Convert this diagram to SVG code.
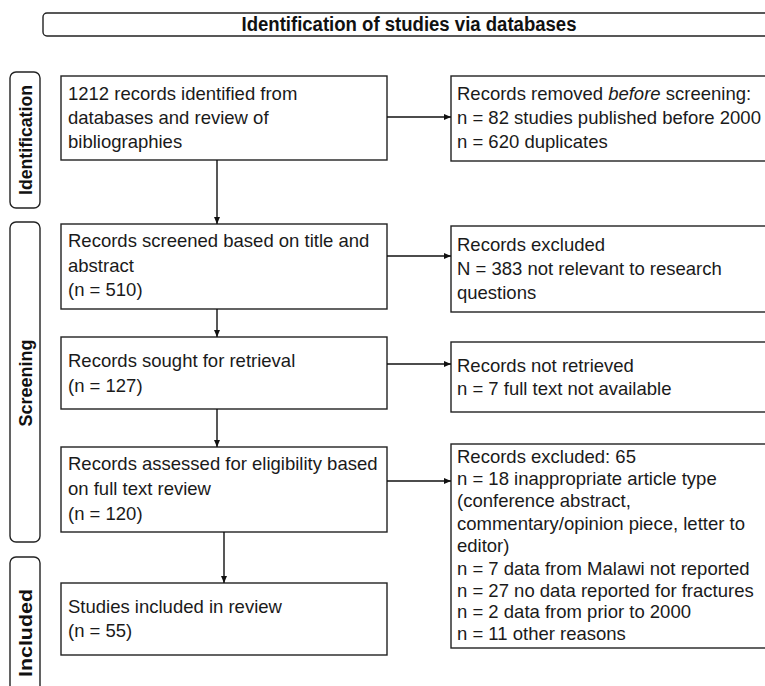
<svg xmlns="http://www.w3.org/2000/svg" width="765" height="686" viewBox="0 0 765 686">
<defs>
<style>
.box{fill:#fff;stroke:#222;stroke-width:1.4}
.lbl{fill:#fff;stroke:#222;stroke-width:1.4}
.t{font-family:"Liberation Sans",Arial,sans-serif;font-size:18.5px;fill:#1a1a1a}
.b{font-family:"Liberation Sans",Arial,sans-serif;font-weight:bold;fill:#111}
.c{stroke:#111;stroke-width:1.4;fill:none}
</style>
<marker id="ah" markerWidth="8" markerHeight="8" refX="7" refY="4" orient="auto" markerUnits="userSpaceOnUse">
<path d="M0,1 L7,4 L0,7 Z" fill="#111"/>
</marker>
</defs>
<rect width="765" height="686" fill="#fff"/>

<g id="banner">
<rect class="lbl" x="43" y="13" width="730" height="23" rx="4"/>
<text class="b" x="409" y="31" font-size="20" text-anchor="middle" textLength="335" lengthAdjust="spacingAndGlyphs">Identification of studies via databases</text>
</g>

<g id="label-identification">
<rect class="lbl" x="10" y="72" width="30" height="136" rx="6"/>
<text class="b" font-size="18" transform="translate(25.5,140) rotate(-90)" text-anchor="middle" dominant-baseline="central" textLength="110" lengthAdjust="spacingAndGlyphs">Identification</text>
</g>
<g id="label-screening">
<rect class="lbl" x="10" y="222" width="30" height="320" rx="6"/>
<text class="b" font-size="18" transform="translate(25.5,383) rotate(-90)" text-anchor="middle" dominant-baseline="central" textLength="87" lengthAdjust="spacingAndGlyphs">Screening</text>
</g>
<g id="label-included">
<rect class="lbl" x="10" y="557" width="30" height="152" rx="6"/>
<text class="b" font-size="18" transform="translate(25.5,633) rotate(-90)" text-anchor="middle" dominant-baseline="central" textLength="88" lengthAdjust="spacingAndGlyphs">Included</text>
</g>

<g id="n1">
<rect class="box" x="61" y="76" width="326" height="84"/>
<text class="t" x="68" y="100">1212 records identified from</text>
<text class="t" x="68" y="124">databases and review of</text>
<text class="t" x="68" y="148">bibliographies</text>
</g>
<g id="n2">
<rect class="box" x="61" y="224" width="326" height="85"/>
<text class="t" x="68" y="247">Records screened based on title and</text>
<text class="t" x="68" y="272">abstract</text>
<text class="t" x="68" y="296">(n = 510)</text>
</g>
<g id="n3">
<rect class="box" x="61" y="337" width="326" height="72"/>
<text class="t" x="68" y="367">Records sought for retrieval</text>
<text class="t" x="68" y="392">(n = 127)</text>
</g>
<g id="n4">
<rect class="box" x="61" y="447" width="326" height="85"/>
<text class="t" x="68" y="470">Records assessed for eligibility based</text>
<text class="t" x="68" y="495">on full text review</text>
<text class="t" x="68" y="520">(n = 120)</text>
</g>
<g id="n5">
<rect class="box" x="61" y="583" width="326" height="72"/>
<text class="t" x="68" y="613">Studies included in review</text>
<text class="t" x="68" y="637">(n = 55)</text>
</g>

<g id="r1">
<rect class="box" x="451" y="76" width="320" height="85"/>
<text class="t" x="457" y="100">Records removed <tspan font-style="italic">before</tspan> screening:</text>
<text class="t" x="457" y="124">n = 82 studies published before 2000</text>
<text class="t" x="457" y="148">n = 620 duplicates</text>
</g>
<g id="r2">
<rect class="box" x="451" y="226" width="320" height="86"/>
<text class="t" x="457" y="251">Records excluded</text>
<text class="t" x="457" y="275">N = 383 not relevant to research</text>
<text class="t" x="457" y="299">questions</text>
</g>
<g id="r3">
<rect class="box" x="451" y="342" width="320" height="70"/>
<text class="t" x="457" y="372">Records not retrieved</text>
<text class="t" x="457" y="395">n = 7 full text not available</text>
</g>
<g id="r4">
<rect class="box" x="451" y="444" width="320" height="204"/>
<text class="t" x="457" y="463">Records excluded: 65</text>
<text class="t" x="457" y="485">n = 18 inappropriate article type</text>
<text class="t" x="457" y="507">(conference abstract,</text>
<text class="t" x="457" y="530">commentary/opinion piece, letter to</text>
<text class="t" x="457" y="552">editor)</text>
<text class="t" x="457" y="575">n = 7 data from Malawi not reported</text>
<text class="t" x="457" y="597">n = 27 no data reported for fractures</text>
<text class="t" x="457" y="618">n = 2 data from prior to 2000</text>
<text class="t" x="457" y="640">n = 11 other reasons</text>
</g>

<g id="connectors">
<line class="c" x1="217" y1="160" x2="217" y2="224" marker-end="url(#ah)"/>
<line class="c" x1="217" y1="309" x2="217" y2="337" marker-end="url(#ah)"/>
<line class="c" x1="217" y1="409" x2="217" y2="447" marker-end="url(#ah)"/>
<line class="c" x1="224" y1="532" x2="224" y2="583" marker-end="url(#ah)"/>
<line class="c" x1="387" y1="117" x2="451" y2="117" marker-end="url(#ah)"/>
<line class="c" x1="387" y1="256" x2="451" y2="256" marker-end="url(#ah)"/>
<line class="c" x1="387" y1="364" x2="451" y2="364" marker-end="url(#ah)"/>
<line class="c" x1="387" y1="481" x2="451" y2="481" marker-end="url(#ah)"/>
</g>
</svg>
